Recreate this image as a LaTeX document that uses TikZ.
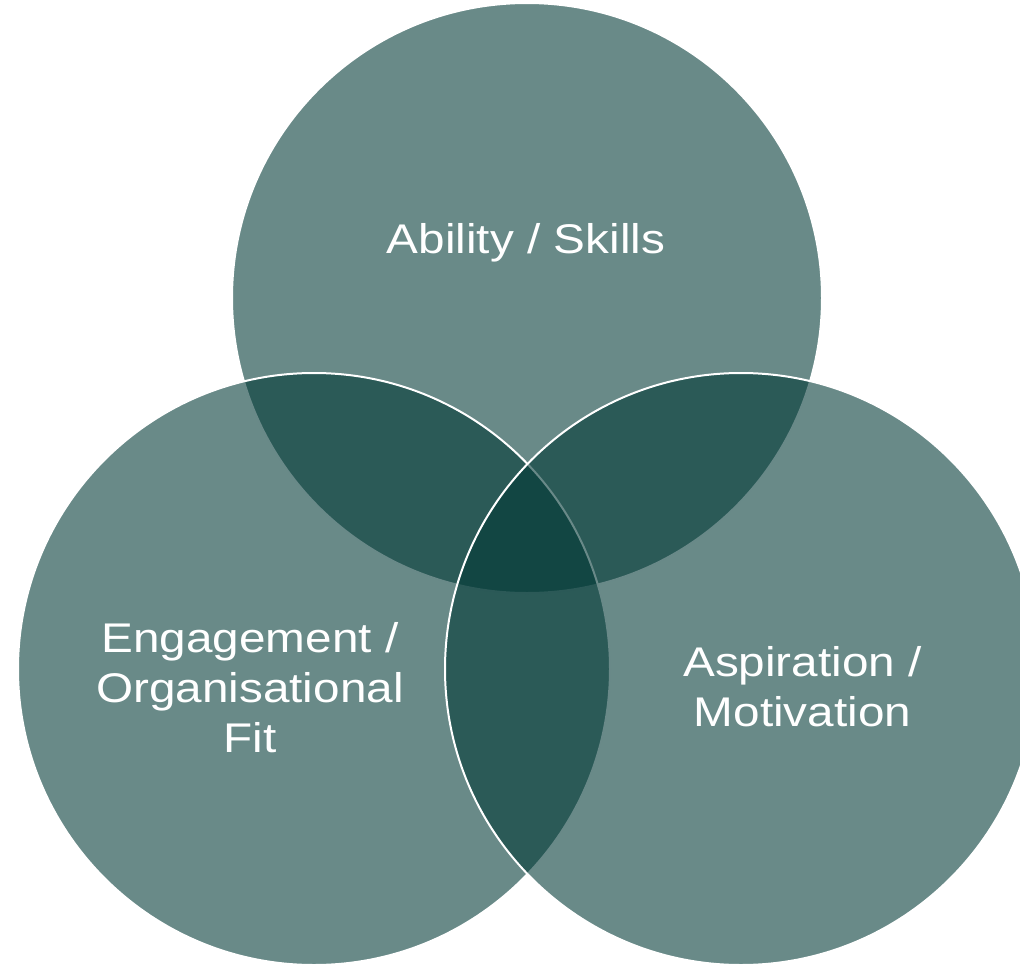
\documentclass[tikz,border=0pt]{standalone}
\usepackage{fontspec}
\newfontfamily\vennfont{Liberation Sans}[FakeStretch=1.15]
\definecolor{venngreen}{RGB}{0,56,53}
\tikzset{
  venn/.style={fill=venngreen, fill opacity=0.59, draw=white, line width=0.04cm},
  vennlabel/.style={text=white, align=center, font=\vennfont\fontsize{23.6}{28.45}\selectfont}
}
\begin{document}
\begin{tikzpicture}
  \useasboundingbox (0,0) rectangle (20.4,-19.28);
  \clip (0,0) rectangle (20.4,-19.28);
  % the three sets
  \draw[venn] (10.54,-5.96) circle (5.9);
  \draw[venn] (6.28,-13.38) circle (5.92);
  \draw[venn] (14.82,-13.38) circle (5.92);
  % labels
  \node[vennlabel, anchor=base] (ability) at (10.52,-5.07) {Ability / Skills};
  \node[vennlabel] (engagement) at (5.0,-13.75) {Engagement /\\ Organisational\\ Fit};
  \node[vennlabel] (aspiration) at (16.05,-13.74) {Aspiration /\\ Motivation};
\end{tikzpicture}
\end{document}
